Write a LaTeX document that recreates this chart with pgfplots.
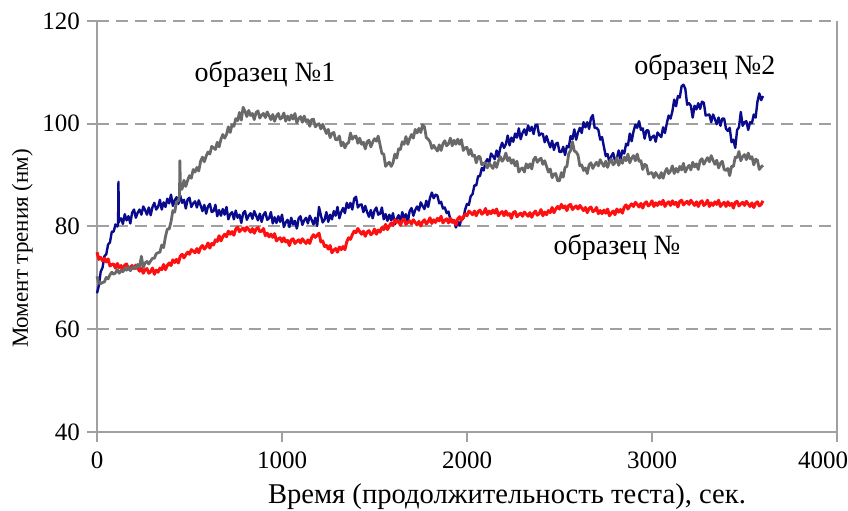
\documentclass[border=0pt]{standalone}
\usepackage{fontspec}
\setmainfont{Liberation Serif}
\usepackage{pgfplots}
\pgfplotsset{compat=1.18}

\definecolor{sampleblue}{RGB}{10,10,140}
\definecolor{samplered}{RGB}{255,16,16}
\definecolor{samplegray}{RGB}{105,105,105}
\definecolor{gridgray}{RGB}{160,160,160}

\begin{document}
\begin{tikzpicture}[font=\fontsize{13}{15}\selectfont]
\begin{axis}[
  scale only axis,
  width=370pt, height=205.5pt,
  xmin=0, xmax=4000, ymin=40, ymax=120,
  xtick={0,1000,2000,3000},
  extra x ticks={4000},
  extra x tick style={xticklabel style={xshift=-7pt}},
  ytick={40,60,80,100,120},
  /pgf/number format/assume math mode=true,
  /pgf/number format/1000 sep={},
  tick label style={font=\fontsize{12.5}{14}\selectfont},
  xticklabel style={yshift=-1.5pt},
  axis x line*=bottom, axis y line*=left,
  axis line style={draw=gridgray, line width=1pt, -},
  tick align=outside,
  major tick length=5pt,
  tick style={draw=gridgray, line width=1pt},
  ymajorgrids,
  grid style={dash pattern=on 6pt off 3.5pt, draw=gridgray, line width=1pt},
  xlabel={Время (продолжительность теста), сек.},
  ylabel={Момент трения (нм)},
  xlabel style={at={(axis description cs:0.554,-0.158)}, anchor=center, font=\fontsize{14.3}{16}\selectfont},
  ylabel style={at={(axis description cs:-0.101,0.4465)}, anchor=center, font=\fontsize{11.5}{13}\selectfont},
  clip=false,
]
% образец №2
\addplot[sampleblue, line width=1.2pt, line join=round] coordinates {
(0,67.0) (10,68.5) (20,71.2) (30,72.0) (40,74.2) (50,74.6) (60,76.5) (70,76.9) (80,79.0) (90,79.0)
(100,80.4) (110,80.0) (114,80.5) (116,88.7) (118,80.8) (120,81.2) (130,81.6) (140,80.5) (150,82.4) (160,81.2)
(170,82.0) (180,80.6) (190,82.7) (200,83.3) (210,81.7) (220,82.7) (230,83.3) (240,82.3) (250,83.9) (260,83.2)
(270,82.3) (280,83.7) (290,82.2) (300,83.8) (310,84.6) (320,83.3) (330,83.8) (340,85.2) (350,83.3) (360,84.7)
(370,83.8) (380,85.4) (390,84.5) (400,86.2) (410,84.0) (420,85.1) (430,85.7) (440,84.4) (450,86.0) (460,84.6)
(470,85.2) (480,83.5) (490,85.3) (500,85.6) (510,83.8) (520,84.5) (530,84.9) (540,83.7) (550,85.1) (560,84.1)
(570,83.0) (580,84.2) (590,82.5) (600,83.9) (610,84.4) (620,82.8) (630,83.0) (640,84.2) (650,82.0) (660,83.2)
(670,82.1) (680,83.4) (690,82.3) (700,83.8) (710,81.4) (720,82.4) (730,82.8) (740,81.4) (750,83.1) (760,81.7)
(770,82.3) (780,80.7) (790,82.6) (800,83.0) (810,81.3) (820,82.1) (830,82.6) (840,81.5) (850,83.0) (860,82.1)
(870,81.2) (880,82.5) (890,80.9) (900,82.3) (910,82.8) (920,81.3) (930,81.6) (940,82.8) (950,80.6) (960,81.8)
(970,80.7) (980,82.0) (990,80.9) (1000,82.3) (1010,79.9) (1020,80.8) (1030,81.3) (1040,79.9) (1050,81.7) (1060,80.4)
(1070,81.1) (1080,79.6) (1090,81.6) (1100,82.0) (1110,80.3) (1120,81.2) (1130,81.7) (1140,80.6) (1150,82.1) (1160,81.3)
(1170,80.4) (1180,81.7) (1190,80.1) (1200,83.8) (1210,82.2) (1220,80.8) (1230,81.3) (1240,82.8) (1250,80.9) (1260,82.3)
(1270,81.4) (1280,83.0) (1290,82.1) (1300,83.8) (1310,81.6) (1320,82.8) (1330,83.6) (1340,82.6) (1350,84.6) (1360,83.6)
(1370,84.6) (1380,83.3) (1390,85.4) (1400,85.8) (1410,83.7) (1420,84.2) (1430,84.3) (1440,82.8) (1450,84.0) (1460,82.8)
(1470,81.9) (1480,83.2) (1490,81.6) (1500,83.1) (1510,83.7) (1520,82.3) (1530,82.5) (1540,83.7) (1550,81.4) (1560,82.4)
(1570,81.1) (1580,82.3) (1590,81.2) (1600,82.6) (1610,80.4) (1620,81.5) (1630,82.2) (1640,81.0) (1650,82.8) (1660,81.6)
(1670,82.4) (1680,80.9) (1690,83.0) (1700,83.6) (1710,82.1) (1720,83.2) (1730,83.9) (1740,83.1) (1750,84.7) (1760,84.0)
(1770,83.4) (1780,85.0) (1790,83.8) (1800,85.6) (1810,86.6) (1820,85.5) (1830,86.2) (1840,86.0) (1850,84.5) (1860,84.8)
(1870,83.5) (1880,83.7) (1890,82.6) (1900,82.9) (1910,81.3) (1920,81.3) (1930,81.1) (1940,79.8) (1950,80.9) (1960,80.2)
(1970,81.5) (1980,81.5) (1990,83.3) (2000,84.4) (2010,84.2) (2020,85.9) (2030,86.3) (2040,88.0) (2050,88.0) (2060,89.8)
(2070,89.8) (2080,91.4) (2090,90.9) (2100,92.5) (2110,93.1) (2120,92.4) (2130,94.2) (2140,93.7) (2150,93.1) (2160,94.8)
(2170,93.5) (2180,95.3) (2190,96.3) (2200,95.3) (2210,96.0) (2220,97.7) (2230,95.8) (2240,97.3) (2250,96.5) (2260,98.1)
(2270,97.3) (2280,99.1) (2290,97.0) (2300,98.2) (2310,98.9) (2320,97.8) (2330,99.7) (2340,98.6) (2350,99.4) (2360,98.0)
(2370,99.7) (2380,99.8) (2390,97.7) (2400,98.1) (2410,98.0) (2420,96.4) (2430,97.6) (2440,96.4) (2450,95.4) (2460,96.7)
(2470,94.9) (2480,96.1) (2490,96.3) (2500,94.5) (2510,94.5) (2520,95.5) (2530,93.9) (2540,95.7) (2550,95.4) (2560,97.6)
(2570,97.0) (2580,98.9) (2590,96.9) (2600,98.3) (2610,99.2) (2620,98.2) (2630,100.3) (2640,99.3) (2650,100.3) (2660,99.0)
(2670,101.1) (2680,101.7) (2690,99.2) (2700,99.2) (2710,98.8) (2720,96.9) (2730,97.4) (2740,95.5) (2750,93.7) (2760,94.1)
(2770,92.4) (2780,93.7) (2790,94.3) (2800,92.8) (2810,93.3) (2820,94.8) (2830,93.1) (2840,94.8) (2850,94.2) (2860,96.1)
(2870,95.8) (2880,98.1) (2890,96.6) (2900,98.5) (2910,99.8) (2920,99.2) (2930,100.5) (2940,98.8) (2950,99.1) (2960,97.1)
(2970,98.7) (2980,98.7) (2990,96.8) (3000,97.4) (3010,97.7) (3020,96.5) (3030,98.3) (3040,97.8) (3050,97.4) (3060,99.3)
(3070,98.2) (3080,100.1) (3090,101.6) (3100,101.0) (3110,102.4) (3120,104.7) (3130,103.4) (3140,105.4) (3150,105.1) (3160,107.3)
(3170,107.6) (3180,106.8) (3190,103.7) (3200,104.0) (3210,103.5) (3220,101.2) (3230,103.5) (3240,102.8) (3250,104.0) (3260,102.9)
(3270,104.3) (3280,104.1) (3290,101.6) (3300,101.7) (3310,101.8) (3320,100.3) (3330,101.8) (3340,100.9) (3350,99.9) (3360,101.2)
(3370,99.6) (3380,101.0) (3390,101.0) (3400,99.0) (3410,98.6) (3420,99.2) (3430,96.4) (3440,96.9) (3450,95.3) (3460,98.8)
(3470,99.3) (3480,102.3) (3490,99.6) (3500,100.3) (3510,100.5) (3520,98.8) (3530,100.3) (3540,100.1) (3550,101.8) (3560,101.2)
(3570,104.3) (3580,105.9) (3590,104.6) (3600,105.4)
};
% образец №3
\addplot[samplered, line width=1.5pt, line join=round] coordinates {
(0,75.0) (10,73.6) (20,74.0) (30,73.3) (40,73.8) (50,73.1) (60,73.7) (70,72.3) (80,72.6) (90,72.7)
(100,71.9) (110,72.8) (120,72.0) (130,72.4) (140,71.4) (150,72.5) (160,72.7) (170,71.7) (180,72.1) (190,72.4)
(200,71.8) (210,72.5) (220,71.9) (230,71.3) (240,71.9) (250,70.9) (260,71.6) (270,71.8) (280,70.9) (290,71.2)
(300,71.9) (310,70.7) (320,71.5) (330,71.1) (340,71.9) (350,71.6) (360,72.6) (370,71.6) (380,72.4) (390,72.9)
(400,72.4) (410,73.5) (420,73.0) (430,73.6) (440,72.9) (450,74.2) (460,74.6) (470,73.9) (480,74.5) (490,75.0)
(500,74.6) (510,75.5) (520,75.2) (530,74.9) (540,75.7) (550,74.9) (560,75.9) (570,76.3) (580,75.6) (590,76.0)
(600,76.8) (610,75.8) (620,76.7) (630,76.4) (640,77.4) (650,77.1) (660,78.2) (670,77.2) (680,78.0) (690,78.5)
(700,78.0) (710,79.1) (720,78.5) (730,79.0) (740,78.3) (750,79.5) (760,79.9) (770,79.0) (780,79.4) (790,79.7)
(800,79.1) (810,79.9) (820,79.4) (830,78.9) (840,79.6) (850,78.7) (860,79.5) (870,79.8) (880,79.0) (890,79.1)
(900,79.6) (910,78.2) (920,78.7) (930,78.0) (940,78.5) (950,77.9) (960,78.6) (970,77.2) (980,77.6) (990,77.8)
(1000,77.0) (1010,77.8) (1020,77.0) (1030,77.3) (1040,76.3) (1050,77.4) (1060,77.6) (1070,76.7) (1080,77.1) (1090,77.4)
(1100,76.8) (1110,77.6) (1120,77.1) (1130,76.7) (1140,77.4) (1150,76.7) (1160,77.8) (1170,78.4) (1180,77.9) (1190,78.3)
(1200,78.7) (1210,77.0) (1220,77.2) (1230,76.1) (1240,76.3) (1250,75.6) (1260,76.3) (1270,74.9) (1280,75.4) (1290,75.7)
(1300,75.0) (1310,76.0) (1320,75.5) (1330,76.1) (1340,75.5) (1350,77.0) (1360,77.8) (1370,77.5) (1380,78.4) (1390,79.1)
(1400,78.8) (1410,79.6) (1420,79.0) (1430,78.5) (1440,79.1) (1450,78.1) (1460,78.9) (1470,79.2) (1480,78.4) (1490,78.7)
(1500,79.5) (1510,78.5) (1520,79.3) (1530,78.9) (1540,79.8) (1550,79.4) (1560,80.4) (1570,79.4) (1580,80.1) (1590,80.7)
(1600,80.2) (1610,81.3) (1620,80.8) (1630,81.1) (1640,80.2) (1650,81.2) (1660,81.4) (1670,80.4) (1680,80.8) (1690,81.1)
(1700,80.5) (1710,81.3) (1720,80.8) (1730,80.3) (1740,81.0) (1750,80.1) (1760,80.9) (1770,81.3) (1780,80.5) (1790,80.9)
(1800,81.7) (1810,80.6) (1820,81.3) (1830,80.8) (1840,81.6) (1850,81.1) (1860,82.0) (1870,80.7) (1880,81.2) (1890,81.5)
(1900,80.7) (1910,81.6) (1920,80.8) (1930,81.2) (1940,80.3) (1950,81.5) (1960,81.9) (1970,81.2) (1980,81.9) (1990,82.4)
(2000,82.1) (2010,83.0) (2020,82.7) (2030,82.3) (2040,83.0) (2050,82.1) (2060,82.9) (2070,83.2) (2080,82.4) (2090,82.7)
(2100,83.5) (2110,82.3) (2120,83.0) (2130,82.5) (2140,83.2) (2150,82.6) (2160,83.4) (2170,82.1) (2180,82.6) (2190,82.9)
(2200,82.1) (2210,83.0) (2220,82.2) (2230,82.5) (2240,81.6) (2250,82.7) (2260,82.9) (2270,81.9) (2280,82.3) (2290,82.6)
(2300,82.0) (2310,82.8) (2320,82.4) (2330,82.0) (2340,82.7) (2350,81.8) (2360,82.6) (2370,83.0) (2380,82.2) (2390,82.5)
(2400,83.3) (2410,82.1) (2420,82.8) (2430,82.3) (2440,83.1) (2450,82.7) (2460,83.7) (2470,82.7) (2480,83.4) (2490,83.9)
(2500,83.4) (2510,84.3) (2520,83.6) (2530,84.0) (2540,83.1) (2550,84.1) (2560,84.3) (2570,83.3) (2580,83.7) (2590,84.0)
(2600,83.4) (2610,84.1) (2620,83.6) (2630,83.1) (2640,83.7) (2650,82.7) (2660,83.5) (2670,83.8) (2680,82.9) (2690,83.1)
(2700,83.7) (2710,82.5) (2720,83.1) (2730,82.5) (2740,83.2) (2750,82.6) (2760,83.4) (2770,82.1) (2780,82.6) (2790,83.0)
(2800,82.3) (2810,83.4) (2820,82.8) (2830,83.3) (2840,82.6) (2850,83.8) (2860,84.2) (2870,83.4) (2880,84.0) (2890,84.4)
(2900,83.9) (2910,84.7) (2920,84.3) (2930,83.8) (2940,84.5) (2950,83.6) (2960,84.5) (2970,84.8) (2980,84.0) (2990,84.3)
(3000,85.0) (3010,83.9) (3020,84.6) (3030,84.1) (3040,84.8) (3050,84.3) (3060,85.1) (3070,83.9) (3080,84.5) (3090,84.8)
(3100,84.1) (3110,85.0) (3120,84.3) (3130,84.7) (3140,83.8) (3150,84.9) (3160,85.1) (3170,84.2) (3180,84.6) (3190,84.9)
(3200,84.3) (3210,85.1) (3220,84.6) (3230,84.1) (3240,84.8) (3250,83.9) (3260,84.7) (3270,85.0) (3280,84.1) (3290,84.4)
(3300,85.1) (3310,83.9) (3320,84.6) (3330,84.1) (3340,84.8) (3350,84.3) (3360,85.1) (3370,83.9) (3380,84.4) (3390,84.7)
(3400,83.9) (3410,84.8) (3420,84.1) (3430,84.5) (3440,83.6) (3450,84.7) (3460,84.9) (3470,84.0) (3480,84.4) (3490,84.7)
(3500,84.1) (3510,84.9) (3520,84.4) (3530,83.9) (3540,84.6) (3550,83.7) (3560,84.5) (3570,84.8) (3580,84.0) (3590,84.3)
(3600,85.0)
};
% образец №1
\addplot[samplegray, line width=1.4pt, line join=round] coordinates {
(0,70.3) (10,69.0) (20,68.9) (30,69.1) (40,69.2) (50,70.1) (60,69.8) (70,70.6) (80,71.1) (90,70.7)
(100,71.0) (110,71.6) (120,70.9) (130,71.5) (140,71.2) (150,71.8) (160,71.5) (170,72.2) (180,71.4) (190,71.9)
(200,72.2) (210,71.8) (220,72.6) (230,72.2) (240,74.2) (250,72.0) (260,72.9) (270,73.2) (280,72.7) (290,73.3)
(300,73.8) (310,73.8) (320,74.7) (330,74.9) (340,75.0) (350,76.4) (360,75.9) (370,78.0) (380,79.5) (390,79.5)
(400,80.9) (410,83.1) (420,82.8) (430,84.8) (440,85.0) (446,86.0) (448,92.8) (451,87.2) (460,87.3) (470,89.0)
(480,87.8) (490,89.0) (500,89.9) (510,89.4) (520,91.1) (530,90.6) (540,91.5) (550,90.8) (560,92.7) (570,93.5)
(580,92.6) (590,93.7) (600,94.5) (610,94.1) (620,95.6) (630,95.3) (640,95.0) (650,96.4) (660,95.5) (670,97.0)
(680,97.9) (690,97.2) (700,97.9) (710,99.4) (720,98.3) (730,99.8) (740,99.5) (750,101.0) (760,100.6) (770,102.2)
(780,100.7) (790,103.2) (800,102.4) (810,101.4) (820,102.6) (830,101.6) (840,102.0) (850,100.8) (860,102.2) (870,102.5)
(880,101.1) (890,101.7) (900,102.0) (910,101.2) (920,102.3) (930,101.6) (940,100.8) (950,101.8) (960,100.5) (970,101.5)
(980,102.0) (990,100.9) (1000,101.2) (1010,102.1) (1020,100.5) (1030,101.5) (1040,100.7) (1050,101.7) (1060,100.9) (1070,102.0)
(1080,100.2) (1090,101.0) (1100,101.4) (1110,100.3) (1120,101.5) (1130,100.4) (1140,100.8) (1150,99.5) (1160,100.8) (1170,100.9)
(1180,99.4) (1190,99.8) (1200,100.0) (1210,99.0) (1220,99.9) (1230,99.0) (1240,98.1) (1250,98.9) (1260,97.3) (1270,98.1)
(1280,98.3) (1290,96.9) (1300,96.9) (1310,97.6) (1320,95.7) (1330,96.4) (1340,95.3) (1350,96.1) (1360,96.3) (1370,98.2)
(1380,97.0) (1390,97.5) (1400,97.6) (1410,96.2) (1420,97.2) (1430,96.0) (1440,96.4) (1450,95.1) (1460,96.5) (1470,96.8)
(1480,95.5) (1490,96.4) (1500,97.1) (1510,96.6) (1520,97.6) (1530,95.9) (1540,94.2) (1550,94.1) (1560,91.7) (1570,92.2)
(1580,92.5) (1590,91.7) (1600,92.4) (1610,94.1) (1620,93.3) (1630,95.1) (1640,95.0) (1650,96.5) (1660,96.0) (1670,97.5)
(1680,96.0) (1690,97.1) (1700,97.9) (1710,97.2) (1720,98.9) (1730,98.2) (1740,99.1) (1750,98.3) (1760,99.8) (1770,99.4)
(1780,97.3) (1790,97.0) (1800,96.5) (1810,95.2) (1820,95.8) (1830,95.2) (1840,94.7) (1850,95.9) (1860,94.8) (1870,96.1)
(1880,96.7) (1890,95.7) (1900,96.1) (1910,97.2) (1920,95.7) (1930,96.8) (1940,96.0) (1950,97.0) (1960,96.0) (1970,96.9)
(1980,94.8) (1990,95.3) (2000,95.4) (2010,94.0) (2020,95.0) (2030,93.7) (2040,93.9) (2050,92.4) (2060,93.6) (2070,93.6)
(2080,92.0) (2090,92.3) (2100,92.4) (2110,91.4) (2120,92.3) (2130,91.8) (2140,91.3) (2150,92.5) (2160,91.5) (2170,92.8)
(2180,93.6) (2190,92.7) (2200,93.2) (2210,94.3) (2220,92.8) (2230,93.4) (2240,92.3) (2250,93.0) (2260,91.8) (2270,92.7)
(2280,90.6) (2290,91.2) (2300,91.4) (2310,90.6) (2320,92.2) (2330,91.4) (2340,92.2) (2350,91.2) (2360,93.0) (2370,93.5)
(2380,92.5) (2390,93.0) (2400,93.3) (2410,92.1) (2420,92.8) (2430,91.7) (2440,90.6) (2450,91.2) (2460,89.5) (2470,90.2)
(2480,90.3) (2490,88.9) (2500,88.9) (2510,90.5) (2520,89.6) (2530,91.5) (2540,91.7) (2550,94.2) (2560,94.8) (2570,96.5)
(2580,94.7) (2590,94.5) (2600,93.9) (2610,91.8) (2620,92.0) (2630,90.9) (2640,91.4) (2650,90.3) (2660,92.0) (2670,92.4)
(2680,91.3) (2690,92.0) (2700,92.5) (2710,91.8) (2720,93.0) (2730,92.3) (2740,91.7) (2750,92.7) (2760,91.5) (2770,92.6)
(2780,93.1) (2790,92.0) (2800,92.4) (2810,93.4) (2820,91.9) (2830,93.0) (2840,92.3) (2850,93.5) (2860,92.8) (2870,94.1)
(2880,92.4) (2890,93.3) (2900,93.8) (2910,92.8) (2920,94.1) (2930,92.7) (2940,92.8) (2950,91.1) (2960,92.1) (2970,91.9)
(2980,90.2) (2990,90.4) (3000,90.5) (3010,89.5) (3020,90.5) (3030,89.9) (3040,89.4) (3050,90.5) (3060,89.4) (3070,90.6)
(3080,91.3) (3090,90.3) (3100,90.8) (3110,91.8) (3120,90.3) (3130,91.3) (3140,90.6) (3150,91.7) (3160,91.0) (3170,92.3)
(3180,90.6) (3190,91.4) (3200,91.9) (3210,91.0) (3220,92.5) (3230,91.6) (3240,92.2) (3250,91.1) (3260,92.8) (3270,93.2)
(3280,92.1) (3290,92.8) (3300,93.4) (3310,92.6) (3320,93.8) (3330,92.9) (3340,92.1) (3350,92.9) (3360,91.4) (3370,92.3)
(3380,92.7) (3390,91.1) (3400,90.9) (3410,91.3) (3420,89.9) (3430,91.7) (3440,91.7) (3450,93.5) (3460,93.4) (3470,94.6)
(3480,92.8) (3490,93.6) (3500,94.0) (3510,93.0) (3520,94.3) (3530,93.2) (3540,93.6) (3550,92.0) (3560,93.1) (3570,92.9)
(3580,91.1) (3590,91.6) (3600,91.9)
};
\draw[gridgray, line width=1pt] (rel axis cs:1,0) -- (rel axis cs:1,1);
\node[font=\fontsize{14}{16}\selectfont] at (axis cs:908,109.5) {образец №1};
\node[font=\fontsize{14}{16}\selectfont] at (axis cs:3286,110.9) {образец №2};
\node[font=\fontsize{14}{16}\selectfont] at (axis cs:2811,76.0) {образец №};
\end{axis}
\pgfresetboundingbox
\path[use as bounding box] (current axis.south west) ++(-48.5pt,-39.5pt) rectangle ([shift={(5.5pt,10.5pt)}]current axis.north east);
\end{tikzpicture}
\end{document}
